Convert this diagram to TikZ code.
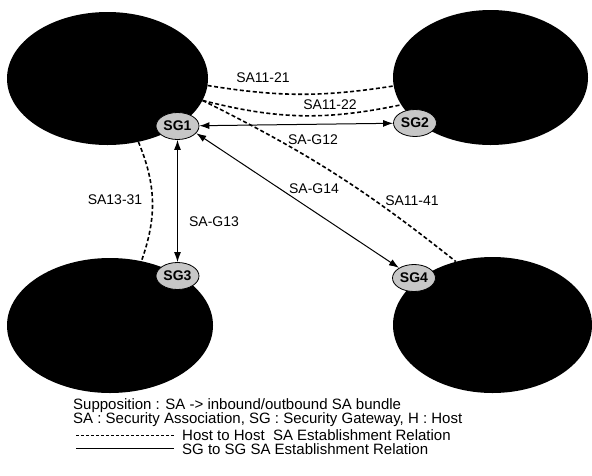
\documentclass[tikz,border=0pt]{standalone}
\usepackage{fontspec}
\setmainfont{Liberation Sans}
\usetikzlibrary{shapes.geometric,arrows.meta}
\begin{document}
\begin{tikzpicture}[x=1pt,y=-1pt,
  net/.style={ellipse, fill=black, draw=none, inner sep=0pt},
  gw/.style={ellipse, draw=black, line width=0.8pt, fill=black!22, minimum width=43pt, minimum height=27pt, inner sep=0pt, font=\fontsize{14}{14}\selectfont\bfseries},
  hh/.style={line width=1.6pt, dash pattern=on 4pt off 2.5pt},
  gg/.style={line width=1pt, {Latex[length=10pt,width=7pt]}-{Latex[length=10pt,width=7pt]}},
  lbl/.style={font=\fontsize{14}{14}\selectfont, inner sep=0pt},
  leg/.style={font=\fontsize{15}{15}\selectfont, inner sep=0pt, anchor=base west},
  legdash/.style={line width=0.8pt, dash pattern=on 3pt off 2pt},
  legsolid/.style={line width=0.9pt}]
\useasboundingbox (0,0) rectangle (592,475);
% networks
\node[net, minimum width=201pt, minimum height=133pt] (E1) at (107.5,78.5) {};
\node[net, minimum width=195pt, minimum height=135pt] (E2) at (490.5,77.5) {};
\node[net, minimum width=206pt, minimum height=135pt] (E3) at (110,325.5) {};
\node[net, minimum width=199pt, minimum height=136pt] (E4) at (492.5,325) {};
% gateways
\node[gw] (SG1) at (177.5,126) {SG1};
\node[gw] (SG2) at (415,123) {SG2};
\node[gw] (SG3) at (177.5,276) {SG3};
\node[gw] (SG4) at (414,278) {SG4};
% host to host
\draw[hh] (E1.-4) to[bend right=9] (E2.185);
\draw[hh] (E1.-13) to[bend right=13] (E2.197);
\draw[hh] (E1.-13) to[bend left=6] (E4.120);
\draw[hh] (E1.-64) to[bend left=21] (E3.64);
% SG to SG
\draw[gg] (SG1) -- (SG2);
\draw[gg] (SG1.-21) -- (SG4.146);
\draw[gg] (SG1) -- (SG3);
% labels
\node[lbl] (l1) at (263,78) {SA11-21};
\node[lbl] (l2) at (330,105) {SA11-22};
\node[lbl] (l3) at (313,140) {SA-G12};
\node[lbl] (l4) at (314,189) {SA-G14};
\node[lbl] (l5) at (412,201) {SA11-41};
\node[lbl] (l6) at (214,222) {SA-G13};
\node[lbl] (l7) at (115,200) {SA13-31};
% legend
\node[leg] (t1) at (73,409.5) {Supposition : SA -> inbound/outbound SA bundle};
\node[leg] (t2) at (73,423) {SA : Security Association, SG : Security Gateway, H : Host};
\coordinate (d1) at (76,435);
\coordinate (d2) at (174,435);
\draw[legdash] (d1) -- (d2);
\node[leg] (t3) at (182,440.5) {Host to Host\ \ SA Establishment Relation};
\coordinate (s1) at (76,448.5);
\coordinate (s2) at (174,448.5);
\draw[legsolid] (s1) -- (s2);
\node[leg] (t4) at (182,454) {SG to SG SA Establishment Relation};
\end{tikzpicture}
\end{document}
